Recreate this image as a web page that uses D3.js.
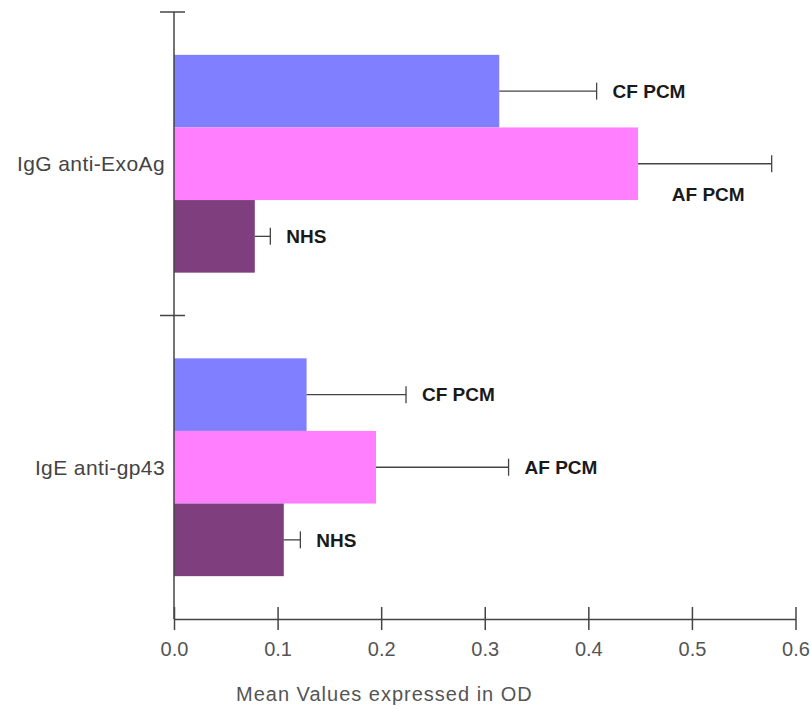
<!DOCTYPE html>
<html>
<head>
<meta charset="utf-8">
<script src="https://cdn.jsdelivr.net/npm/d3@7"></script>
<style>
  html, body { margin: 0; padding: 0; background: #fff; }
  svg { display: block; }
  text { font-family: "Liberation Sans", Arial, sans-serif; }
</style>
</head>
<body>
<svg id="chart" width="811" height="709"></svg>
<script>
// Antibody groups (y bands) and patient series (bars within each band)
const categories = ["IgG anti-ExoAg", "IgE anti-gp43"];
const series = ["CF PCM", "AF PCM", "NHS"];
const seriesColors = ["#7f7fff", "#ff7fff", "#7f3f7f"];

// Mean OD per series, one entry per category
const cfMeans  = [0.314, 0.128];
const afMeans  = [0.448, 0.195];
const nhsMeans = [0.078, 0.106];

// Standard deviations (drawn as one-sided error bars)
const cfErr  = [0.094, 0.096];
const afErr  = [0.129, 0.128];
const nhsErr = [0.015, 0.016];

const xTicks = [0, 0.1, 0.2, 0.3, 0.4, 0.5, 0.6];
const xTitle = "Mean Values expressed in OD";

const rows = [];
categories.forEach((c, i) => {
  rows.push({cat: c, s: "CF PCM",  mean: cfMeans[i],  err: cfErr[i]});
  rows.push({cat: c, s: "AF PCM",  mean: afMeans[i],  err: afErr[i]});
  rows.push({cat: c, s: "NHS",     mean: nhsMeans[i], err: nhsErr[i]});
});

const W = 811, H = 709;
const m = {left: 174, right: 15.5, top: 12, bottom: 90};
const svg = d3.select("#chart");

const x = d3.scaleLinear().domain([0, 0.6]).range([m.left, W - m.right]);
const y = d3.scaleBand().domain(categories).range([m.top, H - m.bottom]).padding(0);
const ySub = d3.scaleBand().domain(series).range([0, y.bandwidth()])
  .paddingInner(0).paddingOuter(0.59);
const color = d3.scaleOrdinal().domain(series).range(seriesColors);

const axisColor = "#444";

// bars
svg.append("g").selectAll("rect").data(rows).join("rect")
  .attr("x", x(0))
  .attr("y", d => y(d.cat) + ySub(d.s))
  .attr("width", d => x(d.mean) - x(0))
  .attr("height", ySub.bandwidth())
  .attr("fill", d => color(d.s));

// error bars
const eb = svg.append("g").attr("stroke", axisColor).attr("stroke-width", 1.3);
rows.forEach(d => {
  const cy = y(d.cat) + ySub(d.s) + ySub.bandwidth() / 2;
  const x1 = x(d.mean), x2 = x(d.mean + d.err);
  eb.append("line").attr("x1", x1).attr("x2", x2).attr("y1", cy).attr("y2", cy);
  eb.append("line").attr("x1", x2).attr("x2", x2).attr("y1", cy - 8.5).attr("y2", cy + 8.5);
});

// series labels next to error bars; placed below the line when out of room
const lab = svg.append("g")
  .attr("font-weight", "bold").attr("font-size", 19).attr("fill", "#1a1a1a");
rows.forEach(d => {
  const cy = y(d.cat) + ySub(d.s) + ySub.bandwidth() / 2;
  const xe = x(d.mean + d.err);
  const t = lab.append("text").text(d.s).attr("dy", "0.36em");
  const w = t.node().getComputedTextLength();
  if (xe + 16 + w > W) {
    t.attr("x", xe - 27).attr("y", cy + 30).attr("text-anchor", "end");
  } else {
    t.attr("x", xe + 16).attr("y", cy);
  }
});

// x axis with ticks crossing the line
const gx = svg.append("g")
  .attr("transform", `translate(0,${H - m.bottom})`)
  .call(d3.axisBottom(x).tickValues(xTicks).tickFormat(d3.format(".1f"))
    .tickSizeOuter(0).tickSizeInner(11).tickPadding(12));
gx.select(".domain").attr("stroke", axisColor).attr("stroke-width", 1.5);
gx.selectAll(".tick line").attr("stroke", axisColor).attr("stroke-width", 1.5).attr("y1", -12);
gx.selectAll(".tick text").attr("font-size", 20).attr("fill", "#555")
  .attr("font-family", "Liberation Sans, Arial, sans-serif");

// y axis: band boundaries as ticks, category names at band centres
const bounds = categories.map(c => y(c));
const gy = svg.append("g");
gy.append("line")
  .attr("x1", m.left).attr("x2", m.left)
  .attr("y1", m.top).attr("y2", H - m.bottom)
  .attr("stroke", axisColor).attr("stroke-width", 1.5);
gy.selectAll("line.bt").data(bounds).join("line").attr("class", "bt")
  .attr("x1", m.left - 14).attr("x2", m.left + 11)
  .attr("y1", d => d).attr("y2", d => d)
  .attr("stroke", axisColor).attr("stroke-width", 1.5);
gy.selectAll("text").data(categories).join("text")
  .attr("x", m.left - 9)
  .attr("y", d => y(d) + y.bandwidth() / 2)
  .attr("dy", "0.36em")
  .attr("text-anchor", "end")
  .attr("font-size", 21)
  .attr("letter-spacing", 0.4)
  .attr("fill", "#444")
  .text(d => d);

// x axis title
svg.append("text")
  .attr("x", 236).attr("y", 694).attr("dy", "0.36em")
  .attr("font-size", 20).attr("letter-spacing", 1)
  .attr("fill", "#555")
  .text(xTitle);
</script>
</body>
</html>
